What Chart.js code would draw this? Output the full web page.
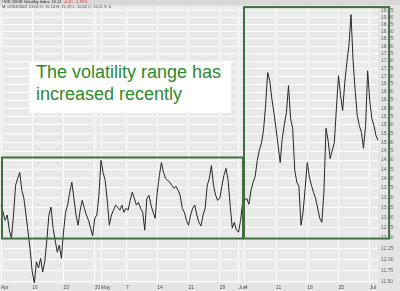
<!DOCTYPE html>
<html>
<head>
<meta charset="utf-8">
<script src="https://cdn.jsdelivr.net/npm/chart.js@4.4.1/dist/chart.umd.min.js"></script>
<style>
  html, body { margin: 0; padding: 0; background: #e4e4e4; }
  #wrap { position: relative; width: 400px; height: 291px; overflow: hidden; }
  #head { position: absolute; left: 0; top: 0; width: 400px; height: 5px; background: #d8d8d8; }
  .h1, .h2 { position: absolute; left: 2px; font-family: "Liberation Sans", Arial, sans-serif; font-size: 4px; line-height: 4px; white-space: nowrap; color: #222; }
  .h1 { top: 0px; }
  .h2 { top: 5px; color: #444; }
  .h1 span { color: #e03030; }
  #note { position: absolute; left: 29px; top: 61px; width: 202px; height: 52px; background: #fff;
          font-family: "Liberation Sans", Arial, sans-serif; font-size: 18px; line-height: 22px;
          color: #2a8c2a; padding-left: 7px; box-sizing: border-box; }
</style>
</head>
<body>
<div id="wrap">
  <canvas id="vix" width="400" height="291"></canvas>
  <div id="head"></div>
  <div class="h1">^VIX CBOE Volatility Index&nbsp; 15.11&nbsp; <span>-0.30&nbsp; -1.95%</span></div>
  <div class="h2">M: 07/03/2007 13:00 O: 15.14 H: 15.19 L: 15.02 C: 15.11 V: 0</div>
  <div id="note">The volatility range has<br>increased recently</div>
</div>
<script>
// trading days Apr 9 .. Jul 3 2007, three readings per day
const vix = [
  [13.31, 13.13, 12.93], [13.06, 12.69, 12.50], [13.06, 13.82, 14.00], [14.16, 13.69, 13.48], [13.06, 12.64, 12.22],
  [11.72, 11.48, 11.95], [11.81, 12.03, 11.72], [11.95, 12.45, 13.06], [13.26, 12.74, 12.45], [12.17, 12.33, 12.03],
  [12.64, 13.13, 13.31], [13.64, 13.90, 13.48], [13.06, 12.81, 13.18], [13.43, 13.23, 13.06], [12.93, 12.74, 12.55],
  [12.98, 13.06, 13.56], [14.49, 14.16, 13.95], [13.43, 12.81, 13.06], [13.18, 13.31, 13.26], [13.18, 13.31, 13.13],
  [13.23, 13.18, 13.43], [13.64, 13.48, 13.31], [13.38, 13.23, 13.13], [12.69, 13.48, 13.56], [13.31, 13.13, 12.98],
  [13.64, 14.08, 14.43], [14.16, 14.00, 13.95], [13.90, 13.82, 13.74], [13.79, 13.69, 13.56], [13.23, 13.13, 12.93],
  [12.81, 13.06, 13.23], [13.31, 13.06, 12.88], [12.79, 13.06, 13.23], [13.82, 14.00, 14.35], [13.82, 13.56, 13.43],
  [13.48, 13.79, 14.08], [14.27, 13.95, 13.31], [12.74, 12.88, 12.69], [12.64, 12.93, 13.38], [13.43, 13.48, 13.33],
  [13.69, 13.90, 14.05], [14.49, 14.77, 14.97], [15.34, 16.08, 17.12], [16.86, 16.29, 15.87], [15.40, 14.91, 14.43],
  [15.11, 15.51, 15.87], [16.70, 15.69, 15.40], [14.22, 13.90, 13.79], [12.81, 13.13, 13.74], [14.43, 14.05, 13.82],
  [13.64, 13.48, 13.23], [12.98, 12.88, 13.64], [15.40, 15.05, 14.54], [14.77, 14.99, 15.99], [17.02, 16.39, 15.93],
  [16.80, 17.45, 18.01], [19.11, 17.51, 16.54], [15.78, 15.48, 15.28], [14.83, 15.48, 17.18], [16.23, 15.69, 15.48],
  [15.19, 15.05, 15.11]
];

const tickDays = [0, 5, 10, 15, 16, 20, 25, 30, 35, 38, 39, 44, 49, 54, 59];
const tickLabels = ['Apr', '16', '23', '30', 'May', '7', '14', '21', '29', 'Jun', '4', '11', '18', '25', 'Jul'];

const priceTicks = [11.50, 11.75, 12.00, 12.25, 12.50, 12.75, 13.00, 13.25, 13.50, 13.75, 14.00, 14.25,
  14.50, 14.75, 15.00, 15.25, 15.50, 15.75, 16.00, 16.25, 16.50, 16.75, 17.00, 17.25, 17.50, 17.75,
  18.00, 18.25, 18.50, 18.75, 19.00, 19.25];

// range boxes: day from/to, value low/high
const boxFrom = [0, 38.72];
const boxTo = [38.72, 62.1];
const boxLow = [12.49, 12.49];
const boxHigh = [14.57, 19.39];

const points = [];
vix.forEach((day, d) => {
  day.forEach((v, k) => points.push({ x: d + k / day.length, y: v }));
});

const frames = {
  id: 'frames',
  beforeDraw(chart) {
    const { ctx, chartArea: a } = chart;
    ctx.save();
    ctx.fillStyle = '#e9e9e9';
    ctx.fillRect(a.left, a.top, a.right - a.left, a.bottom - a.top);
    ctx.restore();
  },
  afterDatasetsDraw(chart) {
    const { ctx, scales: { x, y } } = chart;
    ctx.save();
    ctx.strokeStyle = '#3f6f3f';
    ctx.lineWidth = 2;
    for (let i = 0; i < boxFrom.length; i++) {
      const x0 = x.getPixelForValue(boxFrom[i]) + 1;
      const x1 = x.getPixelForValue(boxTo[i]);
      const y0 = y.getPixelForValue(boxHigh[i]);
      const y1 = y.getPixelForValue(boxLow[i]);
      ctx.strokeRect(x0, y0, x1 - x0, y1 - y0);
    }
    ctx.restore();
  }
};

new Chart(document.getElementById('vix'), {
  type: 'line',
  data: {
    datasets: [{
      data: points,
      borderColor: '#262626',
      borderWidth: 1,
      pointRadius: 0,
      tension: 0
    }]
  },
  options: {
    responsive: false,
    animation: false,
    devicePixelRatio: 1,
    layout: { padding: { top: 5, left: 0, right: 0, bottom: 0 } },
    plugins: { legend: { display: false }, tooltip: { enabled: false } },
    scales: {
      x: {
        type: 'linear',
        min: -0.16,
        max: 60.32,
        afterBuildTicks: s => { s.ticks = tickDays.map(v => ({ value: v })); },
        afterFit: s => { s.height = 7; },
        ticks: {
          callback: (v, i) => tickLabels[i],
          font: { size: 5, family: 'Liberation Sans' },
          color: '#555',
          align: 'start',
          padding: 1,
          maxRotation: 0,
          autoSkip: false
        },
        grid: { color: '#ffffff', drawTicks: false },
        border: { display: false }
      },
      y: {
        type: 'logarithmic',
        position: 'right',
        min: 11.456,
        max: 19.43,
        afterBuildTicks: s => { s.ticks = priceTicks.map(v => ({ value: v })); },
        afterFit: s => { s.width = 22; },
        ticks: {
          callback: v => Number(v).toFixed(2),
          font: { size: 5, family: 'Liberation Sans' },
          color: '#666',
          padding: 3,
          autoSkip: false
        },
        grid: { color: '#ffffff', drawTicks: false },
        border: { display: false }
      }
    }
  },
  plugins: [frames]
});
</script>
</body>
</html>
